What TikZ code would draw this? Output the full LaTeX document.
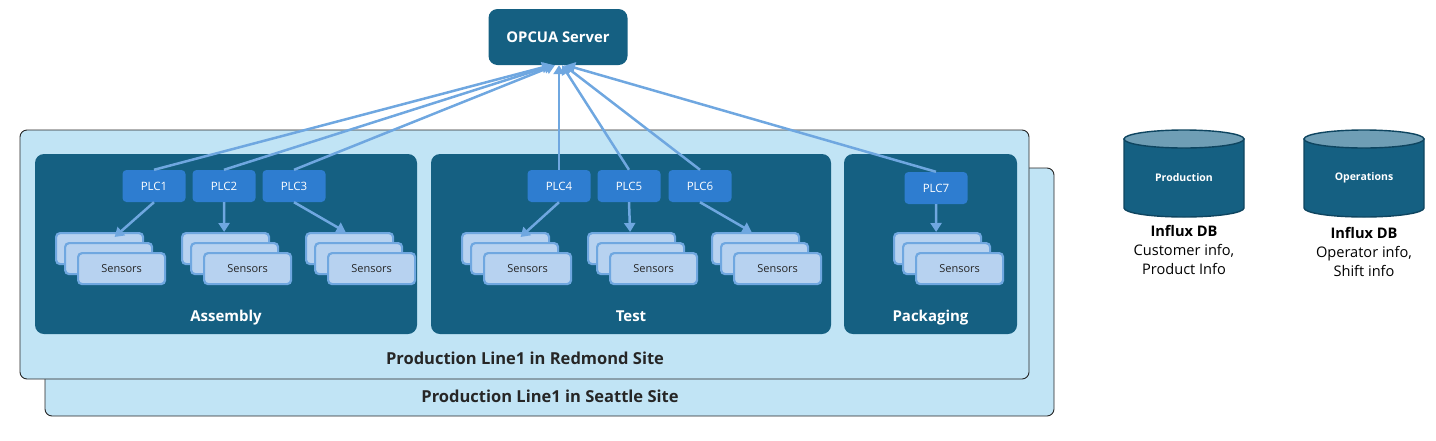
\documentclass[tikz,border=0pt]{standalone}
\usepackage{fontspec}
\setmainfont{Open Sans}
\usepackage{tikz}
\usetikzlibrary{arrows.meta}
\definecolor{siteblue}{HTML}{C1E4F5}
\definecolor{tealbox}{HTML}{156082}
\definecolor{tealedge}{HTML}{0E4560}
\definecolor{dbtop}{HTML}{6F9EB5}
\definecolor{plcblue}{HTML}{2E7DD0}
\definecolor{cardblue}{HTML}{B7D2F0}
\definecolor{linkblue}{HTML}{6FA7E0}
\definecolor{titlegray}{HTML}{262626}

\begin{document}
\begin{tikzpicture}[x=1pt, y=-1pt,
  sitebox/.style={draw=titlegray, line width=0.9pt, fill=siteblue, rounded corners=7pt},
  areabox/.style={fill=tealbox, rounded corners=9pt},
  arealabel/.style={text=white, anchor=base, font=\fontsize{15}{18}\selectfont\bfseries},
  sitelabel/.style={text=titlegray, anchor=base, font=\fontsize{16.5}{18}\selectfont\bfseries},
  server/.style={fill=tealbox, text=white, rounded corners=9pt, minimum width=139pt, minimum height=56pt, font=\fontsize{14.8}{18}\selectfont\bfseries},
  plc/.style={fill=plcblue, text=white, rounded corners=4pt, minimum width=63pt, minimum height=32pt, inner sep=0pt, font=\fontsize{11.5}{14}\selectfont},
  card/.style={draw=linkblue, line width=2.2pt, fill=cardblue, rounded corners=4pt, minimum width=87pt, minimum height=31pt, inner sep=0pt, anchor=north west, text=titlegray, font=\fontsize{11}{14}\selectfont},
  link/.style={draw=linkblue, line width=2.5pt, -{Triangle[length=9pt, width=11pt]}},
  dbbody/.style={fill=tealbox, draw=tealedge, line width=1.4pt},
  dbcap/.style={fill=dbtop, draw=tealedge, line width=1.4pt},
  dblabel/.style={text=white, font=\fontsize{10.5}{13}\selectfont\bfseries},
  dbtext/.style={align=center, text=black, font=\fontsize{14.6}{19}\selectfont}]
  \useasboundingbox (0,0) rectangle (1436,440);

  % sites
  \draw[sitebox] (45,168) rectangle (1054,416);
  \node[sitelabel] (seattle) at (550,402) {Production Line1 in Seattle Site};
  \draw[sitebox] (20,130) rectangle (1029,379);
  \node[sitelabel] (redmond) at (525,364) {Production Line1 in Redmond Site};

  % areas of the line
  \foreach \a/\xa/\xb/\lab in {asm/35/417/Assembly, tst/431/831/Test, pkg/844/1017/Packaging}
    { \fill[areabox] (\xa,154) rectangle (\xb,334); \node[arealabel] (\a) at ({(\xa+\xb)/2},321) {\lab}; }

  \node[server] (opc) at (558,37) {OPCUA Server};

  % controllers
  \foreach \n/\x in {1/154, 2/224, 3/294, 4/559, 5/629, 6/700}
    \node[plc] (plc\n) at (\x,186) {PLC\n};
  \node[plc] (plc7) at (936,188) {PLC7};

  % sensor stacks
  \foreach \s/\x in {1/55, 2/181, 3/305, 4/461, 5/587, 6/711, 7/893}
    { \node[card] (s\s a) at (\x,232) {};
      \node[card] (s\s b) at (\x+9,242) {};
      \node[card] (s\s c) at (\x+22,252) {Sensors}; }

  \foreach \p/\dx/\dy in {1/15/-5, 2/-1.5/0, 3/-4/0, 4/15/-5, 5/-1.5/0, 6/-4/0, 7/-1.5/0}
    \draw[link] (plc\p.south) -- ([xshift=\dx pt, yshift=\dy pt]s\p a.north);
  \foreach \p/\dx in {1/-7, 2/-5, 3/-3, 4/1, 5/4, 6/6, 7/8}
    \draw[link] (plc\p.north) -- ([xshift=\dx pt]opc.south);

  % databases
  \foreach \d/\x/\lab in {prod/1184/Production, ops/1364/Operations}
    { \filldraw[dbbody] (\x-60,139) -- (\x-60,208) arc[start angle=180, end angle=0, x radius=60, y radius=9] -- (\x+60,139) -- cycle;
      \filldraw[dbcap] (\x,139) ellipse[x radius=60, y radius=9];
      \node[dblabel] (\d) at (\x,178) {\lab}; }
  \node[dbtext] (prodinfo) at (1184,250) {\textbf{Influx DB}\\Customer info,\\Product Info};
  \node[dbtext] (opsinfo) at (1364,252) {\textbf{Influx DB}\\Operator info,\\Shift info};
\end{tikzpicture}
\end{document}
